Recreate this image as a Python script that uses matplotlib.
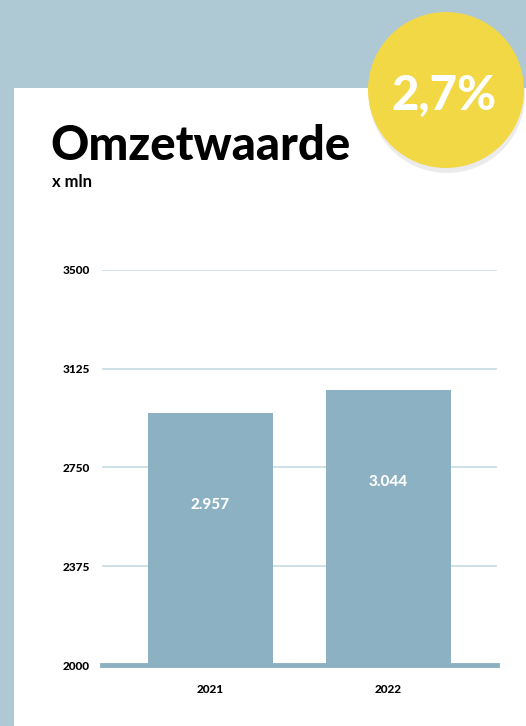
import matplotlib.pyplot as plt
from matplotlib.patches import Rectangle, Circle

# Data
years = ["2021", "2022"]
values = [2957, 3044]
value_labels = ["2.957", "3.044"]
yticks = [2000, 2375, 2750, 3125, 3500]
growth_label = "2,7%"

bg_color = "#afc9d4"
bar_color = "#8bb1c3"
grid_color = "#c6dae3"
yellow = "#f2d845"

plt.rcParams['font.family'] = ['Lato', 'DejaVu Sans']

fig = plt.figure(figsize=(5.26, 7.26), dpi=100)
fig.patch.set_facecolor(bg_color)

# background layer in pixel coordinates
bg = fig.add_axes([0, 0, 1, 1])
bg.set_xlim(0, 526)
bg.set_ylim(726, 0)
bg.axis("off")
bg.add_patch(Rectangle((14, 88), 520, 650, facecolor="white", edgecolor="none"))
bg.add_patch(Circle((447, 95), 78, facecolor="#000000", alpha=0.08, edgecolor="none"))
bg.add_patch(Circle((446, 90), 78, facecolor=yellow, edgecolor="none"))
bg.text(444, 96, growth_label, color="white", fontsize=34, fontweight="black",
        ha="center", va="center")
bg.text(50, 160, "Omzetwaarde", color="black", fontsize=34, fontweight="black",
        ha="left", va="baseline")
bg.text(52, 187, "x mln", color="black", fontsize=12, fontweight="bold",
        ha="left", va="baseline")

# chart
ax = fig.add_axes([102 / 526, 61 / 726, 395 / 526, 395 / 726])
ax.set_facecolor("none")
x = range(len(years))
bars = ax.bar(x, values, width=0.70, color=bar_color, zorder=3)
ax.set_ylim(2000, 3500)
ax.set_xlim(-0.61, 1.61)
ax.set_yticks(yticks)
ax.set_yticklabels([str(t) for t in yticks], fontsize=8.5, fontweight="black")
ax.set_xticks(list(x))
ax.set_xticklabels(years, fontsize=8.5, fontweight="black")
ax.tick_params(length=0)
ax.tick_params(axis="y", pad=9)
ax.tick_params(axis="x", pad=14)
for spine in ax.spines.values():
    spine.set_visible(False)
for t in yticks[1:]:
    ax.axhline(t, color=grid_color, linewidth=1.2, zorder=1)
ax.axhline(2000, color=bar_color, linewidth=3.5, zorder=4, clip_on=False)

for xi, v, lab in zip(x, values, value_labels):
    ax.annotate(lab, (xi, v), xytext=(0, -66), textcoords="offset points",
                ha="center", va="center", color="white", fontsize=11,
                fontweight="black", zorder=5)

fig.savefig("out.png", dpi=100, facecolor=bg_color)
